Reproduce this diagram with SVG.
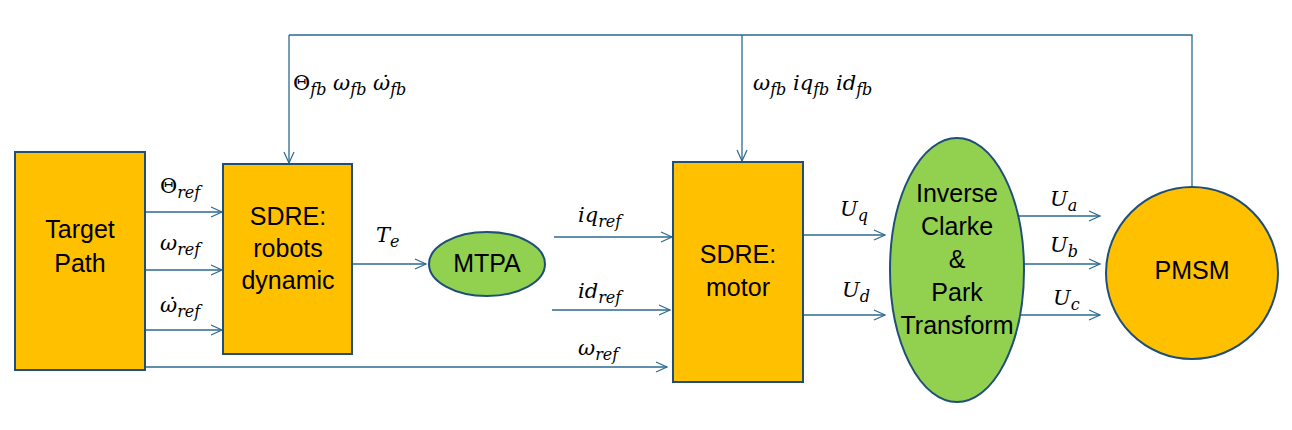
<svg xmlns="http://www.w3.org/2000/svg" width="1292" height="430" viewBox="0 0 1292 430">
<defs>
<marker id="ah" markerWidth="14" markerHeight="12" refX="12" refY="6" orient="auto" markerUnits="userSpaceOnUse">
<polyline points="1,1 12,6 1,11" fill="none" stroke="#2B6A90" stroke-width="1.2"/>
</marker>
<style>
.box{fill:#FFC000;stroke:#1F4E79;stroke-width:2}
.ell{fill:#92D050;stroke:#1F4E79;stroke-width:2}
.t{font-family:"Liberation Sans",Arial,sans-serif;font-size:25px;fill:#000;text-anchor:middle}
.ln{fill:none;stroke:#2B6A90;stroke-width:1.3}
.ar{fill:none;stroke:#2B6A90;stroke-width:1.3;marker-end:url(#ah)}
.m{font-family:"DejaVu Serif","Liberation Serif",serif;font-style:italic;font-size:21px;fill:#000}
.s{font-size:16px}
.u{font-style:normal}
</style>
</defs>
<g id="connectors">
<line class="ar" x1="145" y1="212" x2="222" y2="212"/>
<line class="ar" x1="145" y1="270" x2="222" y2="270"/>
<line class="ar" x1="145" y1="330" x2="222" y2="330"/>
<line class="ar" x1="352" y1="264" x2="426" y2="264"/>
<line class="ar" x1="554" y1="237" x2="672" y2="237"/>
<line class="ar" x1="552" y1="310" x2="670" y2="310"/>
<line class="ar" x1="145" y1="367" x2="667" y2="367"/>
<line class="ar" x1="803" y1="235" x2="885" y2="235"/>
<line class="ar" x1="803" y1="315" x2="885" y2="315"/>
<line class="ar" x1="1018" y1="216" x2="1100" y2="216"/>
<line class="ar" x1="1018" y1="264" x2="1100" y2="264"/>
<line class="ar" x1="1018" y1="315" x2="1100" y2="315"/>
<polyline class="ln" points="1192,187 1192,35 289,35"/>
<line class="ar" x1="289" y1="35" x2="289" y2="163"/>
<line class="ar" x1="742" y1="35" x2="742" y2="161"/>
</g>
<g id="labels">
<text class="m" x="160" y="193"><tspan class="u">Θ</tspan><tspan class="s" dy="5">ref</tspan></text>
<text class="m" x="160" y="250">ω<tspan class="s" dy="5">ref</tspan></text>
<text class="m" x="160" y="312">ω̇<tspan class="s" dy="5">ref</tspan></text>
<text class="m" x="376" y="242">T<tspan class="s" dy="5">e</tspan></text>
<text class="m" x="578" y="222">iq<tspan class="s" dy="5">ref</tspan></text>
<text class="m" x="578" y="298">id<tspan class="s" dy="5">ref</tspan></text>
<text class="m" x="578" y="355">ω<tspan class="s" dy="5">ref</tspan></text>
<text class="m" x="293" y="90"><tspan class="u">Θ</tspan><tspan class="s" dy="5">fb</tspan><tspan dy="-5"> ω</tspan><tspan class="s" dy="5">fb</tspan><tspan dy="-5"> ω̇</tspan><tspan class="s" dy="5">fb</tspan></text>
<text class="m" x="753" y="90">ω<tspan class="s" dy="5">fb</tspan><tspan dy="-5"> iq</tspan><tspan class="s" dy="5">fb</tspan><tspan dy="-5"> id</tspan><tspan class="s" dy="5">fb</tspan></text>
<text class="m" x="840" y="216">U<tspan class="s" dy="5">q</tspan></text>
<text class="m" x="842" y="297">U<tspan class="s" dy="5">d</tspan></text>
<text class="m" x="1050" y="206">U<tspan class="s" dy="5">a</tspan></text>
<text class="m" x="1050" y="252">U<tspan class="s" dy="5">b</tspan></text>
<text class="m" x="1053" y="305">U<tspan class="s" dy="5">c</tspan></text>
</g>
<g id="target-path">
<rect class="box" x="15" y="152" width="130" height="218"/>
<text class="t" x="80" y="238">Target</text>
<text class="t" x="80" y="272">Path</text>
</g>
<g id="sdre-robots">
<rect class="box" x="223" y="164" width="129" height="190"/>
<text class="t" x="288" y="225">SDRE:</text>
<text class="t" x="288" y="257">robots</text>
<text class="t" x="288" y="289">dynamic</text>
</g>
<g id="mtpa">
<ellipse class="ell" cx="487" cy="264" rx="58" ry="32"/>
<text class="t" x="487" y="272">MTPA</text>
</g>
<g id="sdre-motor">
<rect class="box" x="673" y="162" width="130" height="220"/>
<text class="t" x="738" y="263">SDRE:</text>
<text class="t" x="738" y="296">motor</text>
</g>
<g id="clarke-park">
<ellipse class="ell" cx="957" cy="270" rx="67" ry="132"/>
<text class="t" x="957" y="202">Inverse</text>
<text class="t" x="957" y="235">Clarke</text>
<text class="t" x="957" y="268">&amp;</text>
<text class="t" x="957" y="301">Park</text>
<text class="t" x="957" y="334">Transform</text>
</g>
<g id="pmsm">
<circle class="box" cx="1192" cy="273" r="86"/>
<text class="t" x="1192" y="279">PMSM</text>
</g>
</svg>
